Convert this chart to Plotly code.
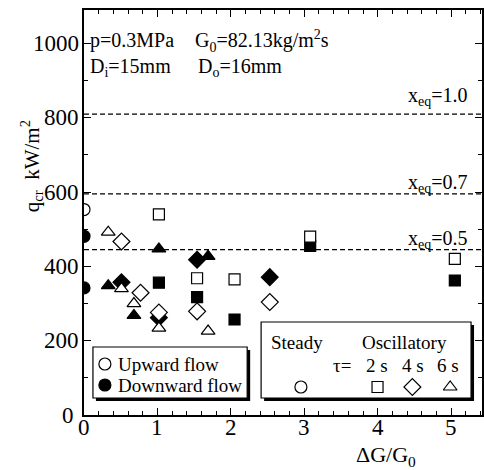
import plotly.graph_objects as go

# ---- data ----
up_steady_x = [0.0]
up_steady_q = [553]
dn_steady_x = [0.0, 0.0]
dn_steady_q = [481, 342]

up_2s_x = [1.02, 1.54, 2.05, 3.08, 5.05]
up_2s_q = [540, 368, 365, 480, 420]
dn_2s_x = [1.02, 1.54, 2.05, 3.08, 5.05]
dn_2s_q = [356, 317, 257, 455, 362]

up_4s_x = [0.51, 0.77, 1.02, 1.54, 2.53]
up_4s_q = [467, 329, 276, 279, 304]
dn_4s_x = [0.51, 1.02, 1.54, 2.53]
dn_4s_q = [357, 262, 418, 371]

up_6s_x = [0.33, 0.51, 0.68, 1.02, 1.69]
up_6s_q = [492, 340, 300, 234, 226]
dn_6s_x = [0.33, 0.68, 1.02, 1.69]
dn_6s_q = [348, 268, 447, 427]

xeq_levels = [810, 595, 445]
xeq_labels = ["1.0", "0.7", "0.5"]

x_ticks = [0, 1, 2, 3, 4, 5]
y_ticks = [0, 200, 400, 600, 800, 1000]

# ---- styling ----
FONT = "Liberation Serif"
W, H = 484, 470
ML, MR, MT, MB = 84, 0, 10, 55
PW, PH = W - ML - MR, H - MT - MB


def px(x):
    return (x - ML) / PW


def py(y):
    return (H - MB - y) / PH


SYM = {"circle": 12, "square": 11, "diamond": 13, "triangle-up": 12}

fig = go.Figure()


def add(xs, ys, sym, filled, xa="x", ya="y"):
    fig.add_trace(go.Scatter(
        x=xs, y=ys, mode="markers", xaxis=xa, yaxis=ya, showlegend=False,
        hoverinfo="skip",
        marker=dict(symbol=sym, size=SYM[sym],
                    color="black" if filled else "white",
                    line=dict(color="black", width=1.2)),
    ))


# filled first, open on top
add(dn_steady_x, dn_steady_q, "circle", True)
add(dn_2s_x, dn_2s_q, "square", True)
add(dn_4s_x, dn_4s_q, "diamond", True)
add(dn_6s_x, dn_6s_q, "triangle-up", True)
add(up_steady_x, up_steady_q, "circle", False)
add(up_2s_x, up_2s_q, "square", False)
add(up_4s_x, up_4s_q, "diamond", False)
add(up_6s_x, up_6s_q, "triangle-up", False)

# legend key markers on an overlay axis in paper units
add([px(105)], [py(364)], "circle", False, "x2", "y2")
add([px(105)], [py(385)], "circle", True, "x2", "y2")
add([px(302)], [py(387)], "circle", False, "x2", "y2")
add([px(379)], [py(387)], "square", False, "x2", "y2")
add([px(414)], [py(387)], "diamond", False, "x2", "y2")
add([px(452)], [py(387)], "triangle-up", False, "x2", "y2")

shapes = []
for lvl in xeq_levels:
    shapes.append(dict(type="line", xref="paper", yref="y", x0=0, x1=1, y0=lvl, y1=lvl,
                       line=dict(color="black", width=1.2, dash="5px,3px"), layer="below"))


def box(x0, y0, x1, y1):
    shapes.append(dict(type="rect", xref="paper", yref="paper",
                       x0=px(x0 + 3), x1=px(x1 + 3), y0=py(y1 + 3), y1=py(y0 + 3),
                       fillcolor="black", line=dict(width=0), layer="below"))
    shapes.append(dict(type="rect", xref="paper", yref="paper",
                       x0=px(x0), x1=px(x1), y0=py(y1), y1=py(y0),
                       fillcolor="white", line=dict(color="black", width=1.2), layer="below"))


box(93, 347, 248, 398)
box(262, 322, 473, 398)

ann = []


def text(t, x, y, size=20, xanchor="left", angle=0):
    ann.append(dict(text=t, x=px(x), y=py(y), xref="paper", yref="paper",
                    xanchor=xanchor, yanchor="middle", showarrow=False, textangle=angle,
                    font=dict(family=FONT, size=size, color="black")))


text("p=0.3MPa", 88, 41)
text("G<sub>0</sub>=82.13kg/m<sup>2</sup>s", 194, 41)
text("D<sub>i</sub>=15mm", 88, 67)
text("D<sub>o</sub>=16mm", 197, 67)
xeq_ypix = [96, 183, 239]
for lab, yp in zip(xeq_labels, xeq_ypix):
    text("x<sub>eq</sub>=" + lab, 472, yp, xanchor="right")
text("Upward flow", 116, 364, size=19)
text("Downward flow", 116, 385, size=19)
text("Steady", 270, 342, size=19)
text("Oscillatory", 361, 342, size=19)
text("τ=", 332, 365, size=19)
text("2 s", 378, 365, size=19, xanchor="center")
text("4 s", 415, 365, size=19, xanchor="center")
text("6 s", 450, 365, size=19, xanchor="center")
text("ΔG/G<sub>0</sub>", 388, 456, size=22, xanchor="center")
text("q<sub>cr</sub>  kW/m<sup>2</sup>", 31, 166, size=21, xanchor="center", angle=-90)

# tick labels drawn from the tick lists
TICK_FONT = dict(family=FONT, size=23, color="black")
for v in x_ticks:
    ann.append(dict(text=str(v), x=v, y=py(427), xref="x", yref="paper",
                    xanchor="center", yanchor="middle", showarrow=False, font=TICK_FONT))
for v in y_ticks:
    ann.append(dict(text=str(v), x=px(76 if v == 0 else 81), y=v, xref="paper", yref="y",
                    xanchor="right", yanchor="middle", showarrow=False, font=TICK_FONT))

axis_common = dict(showgrid=False, zeroline=False, showline=True, linecolor="black",
                   linewidth=1.5, mirror="allticks", ticks="inside", tickcolor="black",
                   tickwidth=1.2, ticklen=7, tickmode="array", showticklabels=False)

fig.update_layout(
    width=W, height=H,
    font=dict(family=FONT, color="black"),
    margin=dict(l=ML, r=MR, t=MT, b=MB),
    paper_bgcolor="white", plot_bgcolor="white",
    xaxis=dict(range=[0, 5.42], tickvals=x_ticks,
               minor=dict(ticks="inside", dtick=0.2, ticklen=4, tickcolor="black", tickwidth=1),
               **axis_common),
    yaxis=dict(range=[0, 1090], tickvals=y_ticks,
               minor=dict(ticks="inside", dtick=100, ticklen=4, tickcolor="black", tickwidth=1),
               **axis_common),
    xaxis2=dict(range=[0, 1], overlaying="x", visible=False, fixedrange=True),
    yaxis2=dict(range=[0, 1], overlaying="y", visible=False, fixedrange=True),
    shapes=shapes,
    annotations=ann,
    showlegend=False,
)

fig.write_html("out.html")
